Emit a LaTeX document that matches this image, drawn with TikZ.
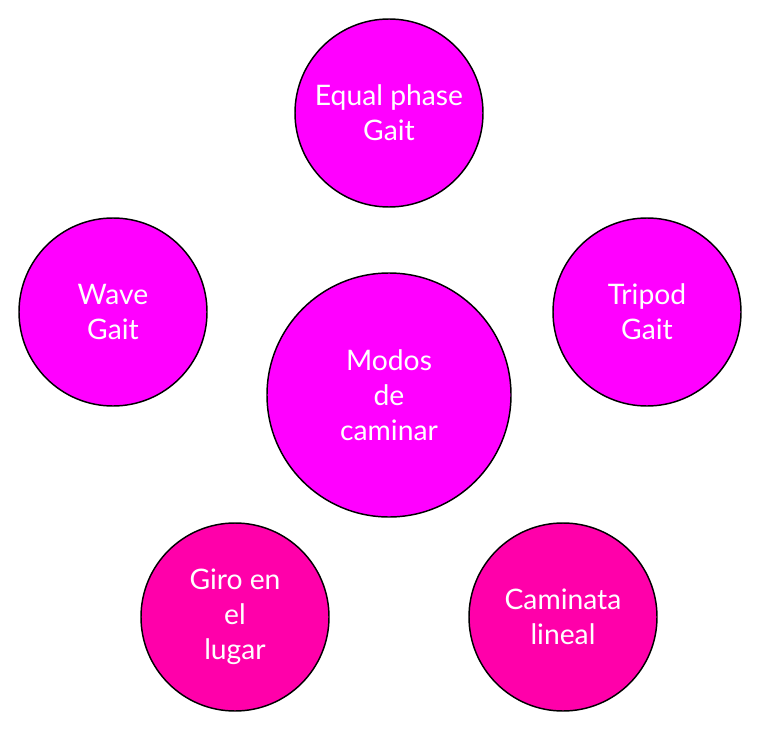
\documentclass[tikz,border=0pt]{standalone}
\usepackage{fontspec}
\setmainfont{Lato}
\definecolor{magA}{HTML}{FF00FF}
\definecolor{magB}{HTML}{FF00AA}
\begin{document}
\begin{tikzpicture}[x=0.75pt,y=-0.75pt,
  bubble/.style={circle,draw=black,line width=1.1pt,text=white,align=center,inner sep=0pt,
    font=\fontsize{21.2pt}{26.25pt}\selectfont},
  small/.style={bubble,minimum size=141pt},
  big/.style={bubble,minimum size=183pt}]
\useasboundingbox (0,0) rectangle (760,731);
\node[big,fill=magA] (c) at (389,395) {Modos\\de\\caminar};
\node[small,fill=magA] (t) at (389,113) {Equal phase\\Gait};
\node[small,fill=magA] (l) at (113,312) {Wave\\Gait};
\node[small,fill=magA] (r) at (647,312) {Tripod\\Gait};
\node[small,fill=magB] (bl) at (235,617) {Giro en\\el\\lugar};
\node[small,fill=magB] (br) at (563,617) {Caminata\\lineal};
\end{tikzpicture}
\end{document}
